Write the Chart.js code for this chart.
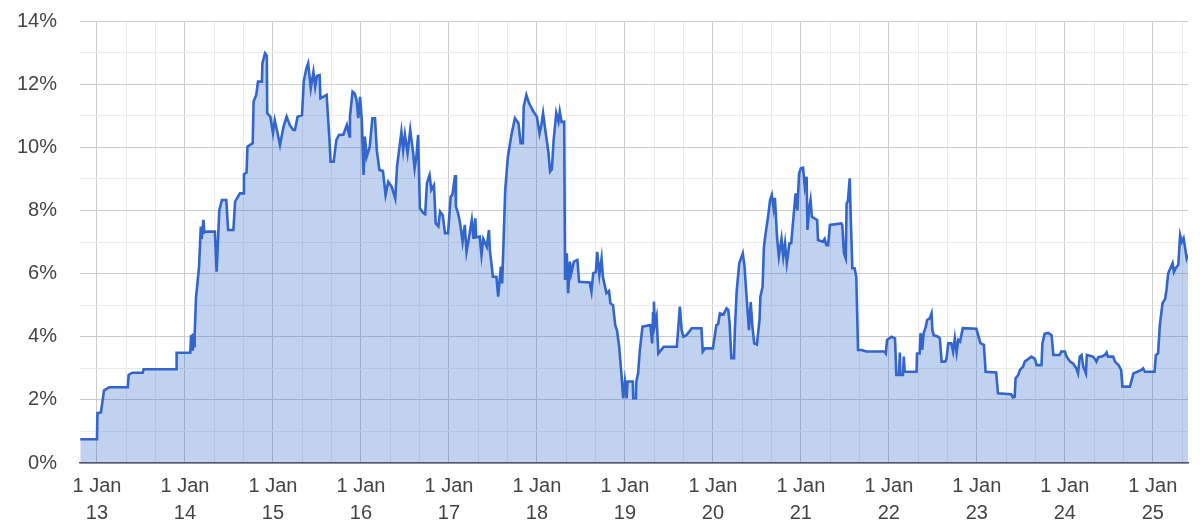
<!DOCTYPE html>
<html>
<head>
<meta charset="utf-8">
<script src="https://cdn.jsdelivr.net/npm/chart.js@4/dist/chart.umd.min.js"></script>
<style>
    html, body { margin: 0; padding: 0; background: #ffffff; }
    #rateChart { display: block; }
</style>
</head>
<body>
<canvas id="rateChart" width="1200" height="531"></canvas>
<script>
// Year labels shown under each 1 Jan tick
const yearLabels = ['13', '14', '15', '16', '17', '18', '19', '20', '21', '22', '23', '24', '25'];
const firstYear = 2013;

// Percentage axis
const rateMin = 0;
const rateMax = 14;

// Series: date as decimal year, rate in %
const pointYears = [
    2012.81, 2013.00, 2013.005, 2013.045, 2013.08, 2013.14, 2013.35, 2013.36, 2013.40, 2013.52,
    2013.53, 2013.90, 2013.905, 2014.06, 2014.07, 2014.08, 2014.09, 2014.105, 2014.11, 2014.125,
    2014.16, 2014.18, 2014.19, 2014.21, 2014.22, 2014.25, 2014.34, 2014.36, 2014.39, 2014.42,
    2014.47, 2014.49, 2014.55, 2014.57, 2014.625, 2014.66, 2014.67, 2014.70, 2014.71, 2014.77,
    2014.78, 2014.81, 2014.83, 2014.875, 2014.88, 2014.91, 2014.93, 2014.935, 2014.97, 2015.00,
    2015.02, 2015.045, 2015.08, 2015.12, 2015.155, 2015.19, 2015.23, 2015.25, 2015.28, 2015.33,
    2015.35, 2015.38, 2015.40, 2015.43, 2015.46, 2015.48, 2015.50, 2015.53, 2015.54, 2015.61,
    2015.64, 2015.655, 2015.69, 2015.72, 2015.75, 2015.80, 2015.84, 2015.87, 2015.875, 2015.905,
    2015.93, 2015.95, 2015.97, 2015.99, 2016.01, 2016.03, 2016.045, 2016.065, 2016.10, 2016.13,
    2016.16, 2016.18, 2016.21, 2016.25, 2016.28, 2016.31, 2016.35, 2016.39, 2016.41, 2016.46,
    2016.48, 2016.50, 2016.53, 2016.56, 2016.59, 2016.61, 2016.63, 2016.65, 2016.67, 2016.71,
    2016.73, 2016.75, 2016.78, 2016.80, 2016.83, 2016.85, 2016.88, 2016.90, 2016.93, 2016.955,
    2016.99, 2017.02, 2017.04, 2017.07, 2017.08, 2017.105, 2017.13, 2017.155, 2017.18, 2017.20,
    2017.23, 2017.26, 2017.28, 2017.30, 2017.31, 2017.35, 2017.37, 2017.39, 2017.43, 2017.455,
    2017.465, 2017.50, 2017.54, 2017.56, 2017.59, 2017.605, 2017.64, 2017.67, 2017.71, 2017.75,
    2017.79, 2017.815, 2017.84, 2017.85, 2017.88, 2017.91, 2017.96, 2018.00, 2018.03, 2018.05,
    2018.07, 2018.09, 2018.13, 2018.15, 2018.17, 2018.19, 2018.22, 2018.245, 2018.26, 2018.28,
    2018.31, 2018.32, 2018.34, 2018.355, 2018.375, 2018.39, 2018.42, 2018.46, 2018.48, 2018.60,
    2018.62, 2018.64, 2018.67, 2018.685, 2018.71, 2018.735, 2018.75, 2018.79, 2018.82, 2018.835,
    2018.865, 2018.89, 2018.91, 2018.935, 2018.96, 2018.98, 2019.00, 2019.02, 2019.03, 2019.09,
    2019.095, 2019.125, 2019.13, 2019.15, 2019.17, 2019.20, 2019.29, 2019.31, 2019.32, 2019.33,
    2019.34, 2019.36, 2019.38, 2019.44, 2019.59, 2019.605, 2019.625, 2019.645, 2019.665, 2019.70,
    2019.76, 2019.87, 2019.885, 2019.91, 2020.00, 2020.04, 2020.06, 2020.08, 2020.12, 2020.155,
    2020.175, 2020.19, 2020.21, 2020.24, 2020.25, 2020.27, 2020.30, 2020.34, 2020.36, 2020.38,
    2020.41, 2020.43, 2020.45, 2020.47, 2020.50, 2020.53, 2020.54, 2020.565, 2020.58, 2020.60,
    2020.63, 2020.65, 2020.67, 2020.69, 2020.705, 2020.73, 2020.75, 2020.78, 2020.80, 2020.82,
    2020.84, 2020.87, 2020.89, 2020.92, 2020.94, 2020.96, 2020.98, 2021.00, 2021.025, 2021.045,
    2021.065, 2021.075, 2021.095, 2021.11, 2021.125, 2021.185, 2021.195, 2021.25, 2021.27, 2021.29,
    2021.31, 2021.33, 2021.46, 2021.47, 2021.49, 2021.51, 2021.52, 2021.535, 2021.555, 2021.57,
    2021.585, 2021.61, 2021.63, 2021.65, 2021.69, 2021.745, 2021.95, 2021.965, 2021.98, 2022.03,
    2022.07, 2022.085, 2022.115, 2022.125, 2022.13, 2022.16, 2022.17, 2022.18, 2022.315, 2022.32,
    2022.35, 2022.36, 2022.38, 2022.395, 2022.42, 2022.435, 2022.465, 2022.485, 2022.495, 2022.51,
    2022.56, 2022.58, 2022.60, 2022.64, 2022.655, 2022.675, 2022.71, 2022.73, 2022.75, 2022.77,
    2022.79, 2022.81, 2022.84, 2022.995, 2023.015, 2023.04, 2023.08, 2023.10, 2023.22, 2023.24,
    2023.39, 2023.41, 2023.43, 2023.44, 2023.47, 2023.49, 2023.525, 2023.545, 2023.62, 2023.66,
    2023.68, 2023.735, 2023.745, 2023.77, 2023.81, 2023.85, 2023.87, 2023.94, 2023.96, 2024.00,
    2024.02, 2024.06, 2024.095, 2024.13, 2024.15, 2024.17, 2024.19, 2024.21, 2024.24, 2024.25,
    2024.32, 2024.34, 2024.36, 2024.38, 2024.42, 2024.455, 2024.475, 2024.49, 2024.55, 2024.57,
    2024.61, 2024.64, 2024.655, 2024.74, 2024.75, 2024.78, 2024.83, 2024.87, 2024.89, 2024.91,
    2025.02, 2025.035, 2025.06, 2025.08, 2025.11, 2025.14, 2025.155, 2025.175, 2025.20, 2025.225,
    2025.24, 2025.26, 2025.29, 2025.31, 2025.33, 2025.35, 2025.365, 2025.385, 2025.40
];

const pointRates = [
    0.75, 0.75, 1.58, 1.60, 2.30, 2.40, 2.40, 2.79, 2.86, 2.86,
    2.97, 2.97, 3.49, 3.49, 4.05, 3.60, 4.10, 3.70, 4.05, 5.22,
    6.22, 7.49, 7.10, 7.70, 7.30, 7.33, 7.33, 6.06, 8.00, 8.33,
    8.33, 7.38, 7.38, 8.28, 8.54, 8.54, 9.15, 9.20, 10.02, 10.13,
    11.45, 11.66, 12.08, 12.08, 12.66, 12.98, 12.90, 11.08, 10.97, 10.45,
    10.86, 10.55, 10.07, 10.65, 10.97, 10.71, 10.55, 10.55, 10.97, 11.02,
    12.08, 12.50, 12.66, 11.87, 12.39, 11.92, 12.26, 12.29, 11.55, 11.66,
    10.34, 9.54, 9.54, 10.23, 10.39, 10.40, 10.71, 10.34, 10.97, 11.76,
    11.70, 11.50, 10.92, 11.60, 10.86, 9.12, 10.34, 9.70, 10.02, 10.92,
    10.92, 9.91, 9.28, 9.25, 8.49, 8.91, 8.75, 8.38, 9.39, 10.49,
    9.91, 10.40, 9.81, 10.55, 9.90, 9.33, 9.70, 10.39, 8.07, 7.91,
    7.88, 8.86, 9.12, 8.65, 8.80, 7.59, 7.50, 7.96, 7.85, 7.28,
    7.28, 8.44, 8.50, 9.12, 8.12, 7.90, 7.54, 7.01, 7.54, 6.69,
    7.17, 7.70, 7.10, 7.75, 7.15, 7.17, 6.59, 7.10, 6.85, 7.38,
    6.75, 5.90, 5.90, 5.27, 6.22, 5.69, 8.65, 9.70, 10.39, 10.92,
    10.76, 10.13, 10.13, 11.29, 11.66, 11.40, 11.13, 10.97, 10.44, 10.70,
    11.08, 10.65, 9.86, 9.23, 9.30, 10.23, 11.08, 10.81, 11.13, 10.80,
    10.81, 5.80, 6.64, 5.38, 6.38, 6.00, 6.38, 6.43, 5.74, 5.72,
    5.43, 6.01, 6.05, 6.69, 5.96, 6.48, 5.90, 5.38, 5.45, 5.06,
    5.00, 4.37, 4.20, 3.68, 2.84, 2.05, 2.58, 2.05, 2.58, 2.58,
    2.05, 2.05, 2.58, 2.84, 3.58, 4.32, 4.37, 3.79, 4.74, 5.11,
    4.37, 4.63, 3.47, 3.68, 3.68, 4.21, 4.95, 4.21, 4.00, 4.05,
    4.27, 4.27, 3.53, 3.63, 3.63, 4.37, 4.40, 4.74, 4.70, 4.90,
    4.85, 4.42, 3.32, 3.32, 4.21, 5.43, 6.33, 6.64, 6.22, 5.38,
    4.21, 5.10, 4.30, 3.79, 3.75, 4.53, 5.27, 5.58, 6.85, 7.28,
    7.86, 8.33, 8.49, 8.07, 8.40, 7.12, 6.54, 7.10, 6.54, 6.96,
    6.33, 6.96, 6.96, 7.91, 8.54, 8.00, 9.18, 9.33, 9.35, 8.75,
    9.07, 7.38, 8.07, 8.33, 7.80, 7.70, 7.06, 7.01, 7.10, 6.90,
    6.90, 7.54, 7.59, 7.54, 6.64, 6.48, 8.22, 8.30, 9.02, 7.50,
    6.17, 6.17, 5.90, 3.58, 3.58, 3.53, 3.53, 3.47, 3.90, 4.00,
    3.95, 2.79, 2.79, 3.50, 2.79, 2.79, 3.37, 2.89, 2.89, 3.47,
    3.47, 4.11, 3.58, 4.11, 4.32, 4.53, 4.58, 4.74, 4.21, 4.05,
    4.00, 3.95, 3.21, 3.21, 3.30, 3.79, 3.79, 3.53, 3.95, 3.50,
    3.90, 3.85, 4.27, 4.25, 4.05, 3.80, 3.74, 2.89, 2.87, 2.21,
    2.18, 2.08, 2.10, 2.68, 2.79, 2.95, 3.05, 3.21, 3.37, 3.30,
    3.10, 3.10, 3.79, 4.09, 4.12, 4.05, 3.42, 3.42, 3.53, 3.53,
    3.37, 3.21, 3.15, 3.00, 2.84, 3.37, 3.42, 3.05, 2.84, 3.42,
    3.37, 3.30, 3.21, 3.35, 3.37, 3.42, 3.50, 3.37, 3.37, 3.21,
    3.10, 2.95, 2.42, 2.42, 2.53, 2.84, 2.90, 2.95, 3.00, 2.89,
    2.89, 3.42, 3.47, 4.37, 5.06, 5.20, 5.48, 6.01, 6.17, 6.33,
    6.05, 6.17, 6.28, 7.22, 7.00, 7.12, 6.85, 6.48, 6.60
];

const xMin = 2012.807;
const xMax = 2025.40;

const labelFont = { family: '"Liberation Sans", Arial, sans-serif', size: 20, lineHeight: 1.35 };

// ticks every 4 months, labels only on 1 Jan
function buildYearTicks() {
    const ticks = [];
    for (let i = 0; i < yearLabels.length; i++) {
        for (let k = 0; k < 3; k++) {
            const v = firstYear + i + k / 3;
            if (v >= xMin && v <= xMax) ticks.push({ value: v, major: k === 0 });
        }
    }
    return ticks;
}

function isWholeYear(v) {
    return Math.abs(v - Math.round(v)) < 1e-6;
}

const ctx = document.getElementById('rateChart').getContext('2d');

new Chart(ctx, {
    type: 'line',
    data: {
        datasets: [{
            data: pointYears.map((x, i) => ({ x: x, y: pointRates[i] })),
            borderColor: '#3366cc',
            backgroundColor: 'rgba(51, 102, 204, 0.3)',
            borderWidth: 2.6,
            fill: 'origin',
            pointRadius: 0,
            tension: 0,
        }],
    },
    options: {
        responsive: false,
        animation: false,
        layout: { padding: { top: 21, right: 12, left: 0, bottom: 0 } },
        plugins: {
            legend: { display: false },
            tooltip: { enabled: false },
        },
        scales: {
            x: {
                type: 'linear',
                min: xMin,
                max: xMax,
                afterBuildTicks: (scale) => { scale.ticks = buildYearTicks(); },
                afterFit: (scale) => { scale.height = 68; },
                ticks: {
                    autoSkip: false,
                    maxRotation: 0,
                    padding: 10,
                    color: '#444444',
                    font: labelFont,
                    callback: (value) => {
                        if (!isWholeYear(value)) return '';
                        return ['1 Jan', yearLabels[Math.round(value) - firstYear]];
                    },
                },
                grid: {
                    drawTicks: false,
                    lineWidth: 1,
                    color: (c) => (c.tick && isWholeYear(c.tick.value)) ? '#cccccc' : '#ebebeb',
                },
                border: { display: true, color: '#555555', width: 1.5 },
            },
            y: {
                min: rateMin,
                max: rateMax,
                afterFit: (scale) => {
                    scale.width = 80;
                    scale.paddingTop = 0;
                    scale.paddingBottom = 0;
                },
                ticks: {
                    stepSize: 1,
                    padding: 23,
                    color: '#444444',
                    font: labelFont,
                    callback: (value) => (value % 2 === 0 ? value + '%' : ''),
                },
                grid: {
                    drawTicks: false,
                    lineWidth: 1,
                    color: (c) => (c.tick && c.tick.value % 2 === 0) ? '#cccccc' : '#ebebeb',
                },
                border: { display: false },
            },
        },
    },
});
</script>
</body>
</html>
